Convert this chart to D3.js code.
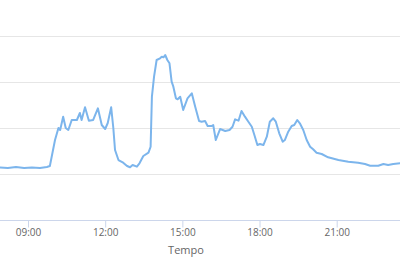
<!DOCTYPE html>
<html><head><meta charset="utf-8">
<script src="https://cdn.jsdelivr.net/npm/d3@7"></script>
<style>html,body{margin:0;padding:0;background:#fff;overflow:hidden}svg{display:block}</style>
</head><body>
<svg id="c" width="400" height="270"></svg>
<script>
// time in minutes after midnight
const times = [475,493,512,531,549,568,584,591,603,611,615,622,628,634,642,654,661,665,673,682,692,703,712,720,726,734,739,743,751,762,771,778,784,794,800,809,821,826,829,834,840,848,852,856,860,865,870,875,879,885,889,895,902,912,922,930,939,945,953,959,968,972,978,988,1000,1010,1017,1023,1031,1038,1046,1054,1062,1068,1075,1081,1089,1097,1104,1112,1118,1126,1134,1139,1147,1155,1161,1168,1174,1182,1190,1198,1205,1213,1225,1240,1264,1287,1310,1326,1338,1357,1369,1380,1392,1408];
const values = [1141,1130,1152,1130,1141,1130,1152,1174,1739,2000,1957,2246,2000,1957,2174,2174,2326,2174,2450,2159,2174,2428,2065,1978,2109,2450,2000,1522,1304,1246,1174,1146,1196,1159,1233,1391,1463,1593,2680,3115,3478,3515,3550,3537,3587,3478,3407,3007,2898,2646,2624,2680,2391,2646,2754,2463,2152,2137,2152,2043,2043,2065,1739,1978,1935,1957,2028,2189,2159,2370,2246,2137,2028,1848,1630,1652,1630,1811,2137,2211,2137,1885,1702,1739,1920,2043,2065,2174,2102,1957,1739,1593,1537,1463,1435,1363,1304,1267,1246,1217,1180,1180,1217,1196,1217,1233];
const xTicks = [540,720,900,1080,1260,1440];
const xTickLabels = ["09:00","12:00","15:00","18:00","21:00","24:00"];
const yTicks = [0,1000,2000,3000,4000,5000];
const xTitle = "Tempo";

const svg = d3.select("#c");
const x = d3.scaleLinear().domain([540,1260]).range([28,336.7]);
const y = d3.scaleLinear().domain([0,4000]).range([220,36]);

// grid
svg.append("g").selectAll("line").data(yTicks.filter(d=>d>0)).join("line")
  .attr("x1",0).attr("x2",400)
  .attr("y1",d=>Math.round(y(d))+0.5).attr("y2",d=>Math.round(y(d))+0.5)
  .attr("stroke","#e6e6e6").attr("stroke-width",1);

// x axis
const xAxis = d3.axisBottom(x).tickValues(xTicks)
  .tickFormat((d,i)=>xTickLabels[i]).tickSize(7).tickPadding(1.5);
const gx = svg.append("g").attr("transform","translate(0,220.5)").call(xAxis);
gx.select(".domain").remove();
gx.append("line").attr("x1",0).attr("x2",400).attr("stroke","#ccd6eb");
gx.selectAll(".tick line").attr("stroke","#ccd6eb");
gx.selectAll(".tick text").attr("fill","#666").style("font-family","'Open Sans', sans-serif").style("font-size","10px");

svg.append("text").attr("x",186).attr("y",253.5).attr("text-anchor","middle")
  .attr("fill","#666").style("font-family","'Open Sans', sans-serif").style("font-size","11px").text(xTitle);

// line
const line = d3.line().x((d,i)=>x(times[i])).y(d=>y(d));
svg.append("path").datum(values).attr("d",line)
  .attr("fill","none").attr("stroke","#7cb5ec").attr("stroke-width",2)
  .attr("stroke-linejoin","round").attr("stroke-linecap","round");
</script>
</body></html>
